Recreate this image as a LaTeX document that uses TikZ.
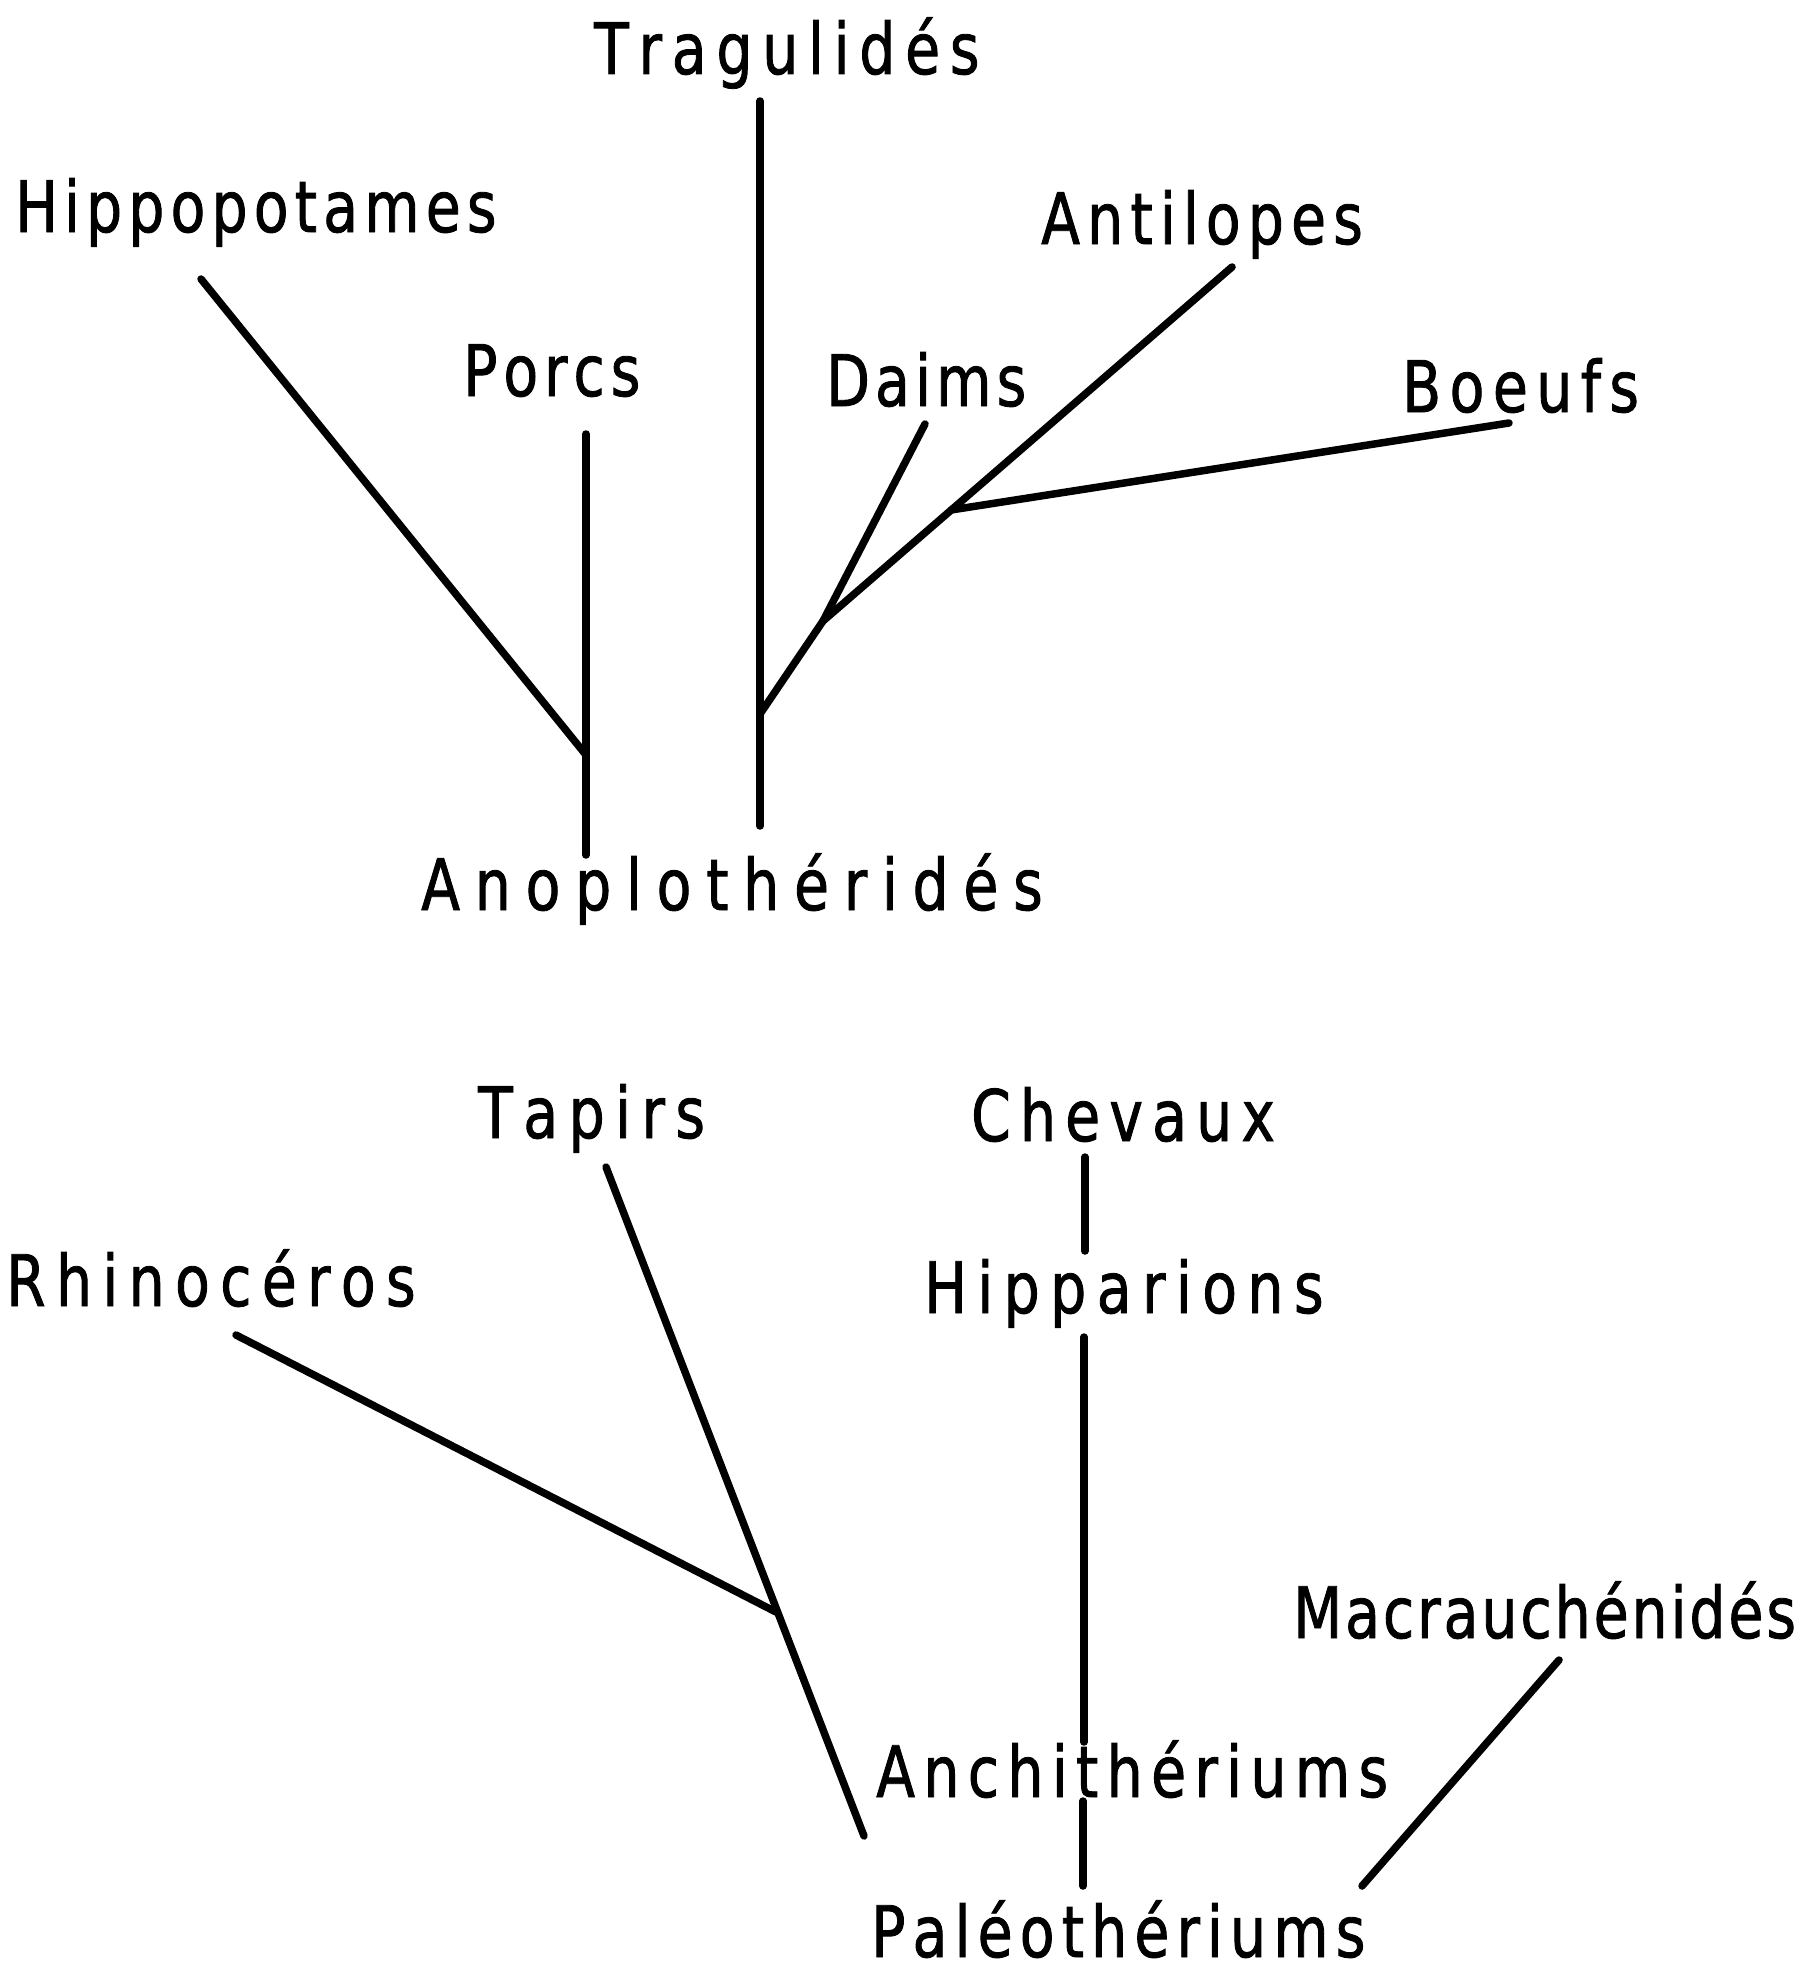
\documentclass[tikz,border=0pt]{standalone}
\usepackage{fontspec}
\newfontfamily\lblfont[FakeStretch=0.8,FakeBold=1.2]{DejaVu Sans}
\newdimen\lsp
\makeatletter
\def\spc#1{\spc@loop#1\relax}
\def\spc@loop#1{\ifx#1\relax\else#1\kern\lsp\expandafter\spc@loop\fi}
\makeatother
\newcommand{\lbltext}[2]{{\lsp=#1pt\spc{#2}}}
\tikzset{
  lbl/.style={inner sep=0pt, anchor=base west, font=\lblfont\fontsize{71}{84}\selectfont},
  branch/.style={line width=7.5pt, line cap=round, line join=round}
}
\begin{document}
\begin{tikzpicture}[x=1pt,y=-1pt]
\fill[white] (0,0) rectangle (1812,1972);
\useasboundingbox (0,0) rectangle (1812,1972);

% labels
\node[lbl] (trag) at (594,74) {\lbltext{9.8}{Tragulidés}};
\node[lbl] (hippo) at (15,232) {\lbltext{6.2}{Hippopotames}};
\node[lbl] (porcs) at (463,396) {\lbltext{6}{Porcs}};
\node[lbl] (daims) at (826,406) {\lbltext{5.2}{Daims}};
\node[lbl] (anti) at (1041,244) {\lbltext{7.2}{Antilopes}};
\node[lbl] (boeufs) at (1402,412) {\lbltext{8.5}{Boeufs}};
\node[lbl] (anop) at (421,910) {\lbltext{14.8}{Anoplothéridés}};
\node[lbl] (tapirs) at (478,1138) {\lbltext{10.5}{Tapirs}};
\node[lbl] (rhino) at (6,1306) {\lbltext{10.4}{Rhinocéros}};
\node[lbl] (chev) at (971,1141) {\lbltext{9.2}{Chevaux}};
\node[lbl] (hipp) at (924,1313) {\lbltext{10.5}{Hipparions}};
\node[lbl] (anch) at (876,1797) {\lbltext{8.4}{Anchithériums}};
\node[lbl] (paleo) at (871,1957) {\lbltext{7.2}{Paléothériums}};
\node[lbl] (macr) at (1293,1638) {\lbltext{3}{Macrauchénidés}};

% top tree points
\coordinate (tragTop) at (760,101);
\coordinate (tragBot) at (760,826);
\coordinate (tragJ) at (760,714);
\coordinate (hipTop) at (201,279);
\coordinate (porJ) at (586,755);
\coordinate (porTop) at (586,434);
\coordinate (porBot) at (586,855);
\coordinate (daiTop) at (925,424);
\coordinate (daiJ) at (823,621);
\coordinate (antTop) at (1232,267);
\coordinate (boeJ) at (951,510);
\coordinate (boeTop) at (1509,423);

\draw[branch] (tragTop) -- (tragBot);
\draw[branch] (hipTop) -- (porJ);
\draw[branch] (porTop) -- (porBot);
\draw[branch] (antTop) -- (daiJ) -- (tragJ);
\draw[branch] (daiTop) -- (daiJ);
\draw[branch] (boeJ) -- (boeTop);

% bottom tree points
\coordinate (tapTop) at (606,1167);
\coordinate (tapBot) at (864,1836);
\coordinate (rhiJ) at (776,1612);
\coordinate (rhiTop) at (236,1335);
\coordinate (cheA) at (1085,1157);
\coordinate (cheB) at (1085,1251);
\coordinate (hipA) at (1084,1337);
\coordinate (hipB) at (1084,1742);
\coordinate (anA) at (1083,1801);
\coordinate (anB) at (1083,1886);
\coordinate (macTop) at (1559,1660);
\coordinate (macBot) at (1362,1886);

\draw[branch] (tapTop) -- (tapBot);
\draw[branch] (rhiTop) -- (rhiJ);
\draw[branch] (cheA) -- (cheB);
\draw[branch] (hipA) -- (hipB);
\draw[branch] (anA) -- (anB);
\draw[branch] (macTop) -- (macBot);
\end{tikzpicture}
\end{document}
